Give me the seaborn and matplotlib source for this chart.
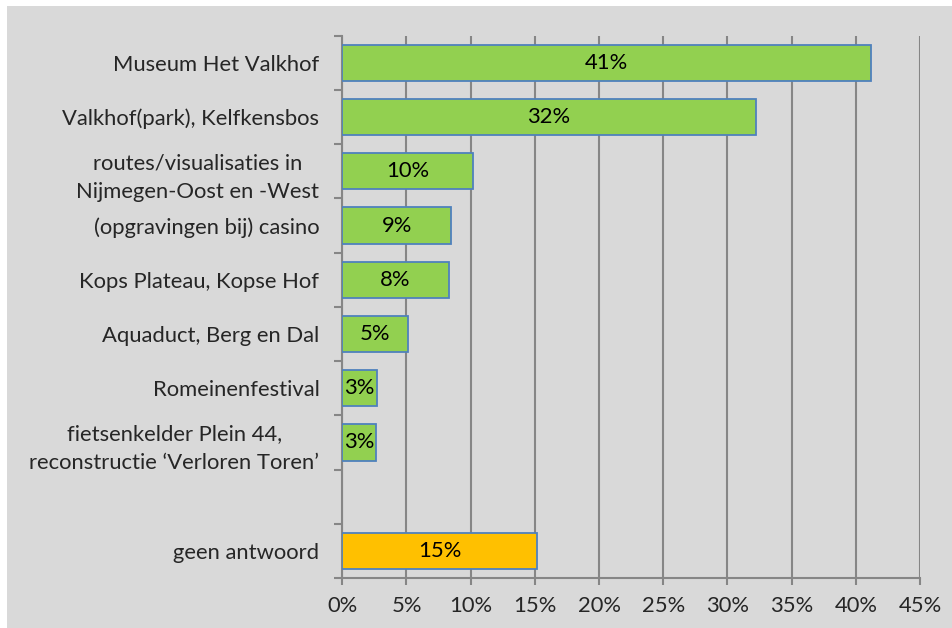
import matplotlib
matplotlib.use("Agg")
import matplotlib.pyplot as plt
import matplotlib.ticker as mticker
from matplotlib.patches import Rectangle
import seaborn as sns
import pandas as pd
import numpy as np

# ---- data ----
categories = [
    "Museum Het Valkhof",
    "Valkhof(park), Kelfkensbos",
    "routes/visualisaties in\nNijmegen-Oost en -West",
    "(opgravingen bij) casino",
    "Kops Plateau, Kopse Hof",
    "Aquaduct, Berg en Dal",
    "Romeinenfestival",
    "fietsenkelder Plein 44,\nreconstructie \u2018Verloren Toren\u2019",
    "geen antwoord",
]
values = [41.2, 32.2, 10.2, 8.5, 8.3, 5.1, 2.7, 2.6, 15.2]
value_labels = ["41%", "32%", "10%", "9%", "8%", "5%", "3%", "3%", "15%"]
groups = ["genoemd"] * 8 + ["geen"]
# slot order (with an empty slot before "geen antwoord")
order = categories[:8] + [" "] + categories[8:]
x_ticks = [0, 5, 10, 15, 20, 25, 30, 35, 40, 45]

GREEN = "#92d050"
ORANGE = "#ffc000"
EDGE = "#4f81bd"
GRID = "#868686"
BG = "#d9d9d9"
FS = 15.8

sns.set_theme(style="white")
plt.rcParams["font.family"] = ["Lato", "DejaVu Sans"]

df = pd.DataFrame({"cat": categories, "val": values, "grp": groups})

fig = plt.figure(figsize=(9.52, 6.28), dpi=100, facecolor="white")
fig.patches.append(Rectangle((7 / 952, 0), 1 - 7 / 952, 1 - 6 / 628,
                             transform=fig.transFigure, facecolor=BG,
                             edgecolor="none", zorder=-10))
ax = fig.add_axes([342.3 / 952, 1 - 578 / 628, (920 - 342.3) / 952, (578 - 35.7) / 628])
ax.set_facecolor(BG)

sns.barplot(data=df, y="cat", x="val", hue="grp", order=order,
            palette={"genoemd": GREEN, "geen": ORANGE}, dodge=False,
            saturation=1, legend=False, width=0.67, edgecolor=EDGE,
            linewidth=1.3, ax=ax, zorder=3)

# data labels
for p in ax.patches:
    w = p.get_width()
    if not np.isfinite(w) or w == 0:
        continue
    yc = p.get_y() + p.get_height() / 2
    idx = order[int(round(yc))]
    lab = value_labels[categories.index(idx)]
    ax.text(w / 2, yc, lab, ha="center", va="center", fontsize=FS,
            color="black", zorder=5)

ax.set_xlim(0, 45)
ax.set_ylim(len(order) - 0.5, -0.5)
ax.set_xticks(x_ticks)
ax.xaxis.set_major_formatter(mticker.FuncFormatter(lambda v, _: f"{v:.0f}%"))
ax.grid(axis="x", color=GRID, linewidth=1.5, zorder=0)
ax.set_axisbelow(True)

ax.set_xlabel("")
ax.set_ylabel("")

# y labels at category centers, tick marks at slot boundaries
ax.set_yticks(range(len(order)))
ax.set_yticklabels(order, multialignment="center", linespacing=1.55)
ax.yaxis.set_minor_locator(mticker.FixedLocator(np.arange(-0.5, len(order), 1.0)))
ax.tick_params(axis="y", which="major", length=0, pad=16.5, labelsize=FS)
ax.tick_params(axis="y", which="minor", length=6, width=1.5, color=GRID, left=True)
ax.tick_params(axis="x", which="major", length=5, width=1.5, color=GRID, bottom=True,
               pad=8, labelsize=FS)

for s in ["top", "right"]:
    ax.spines[s].set_visible(False)
for s in ["left", "bottom"]:
    ax.spines[s].set_color(GRID)
    ax.spines[s].set_linewidth(1.5)

fig.savefig("out.png", dpi=100, facecolor=fig.get_facecolor())
